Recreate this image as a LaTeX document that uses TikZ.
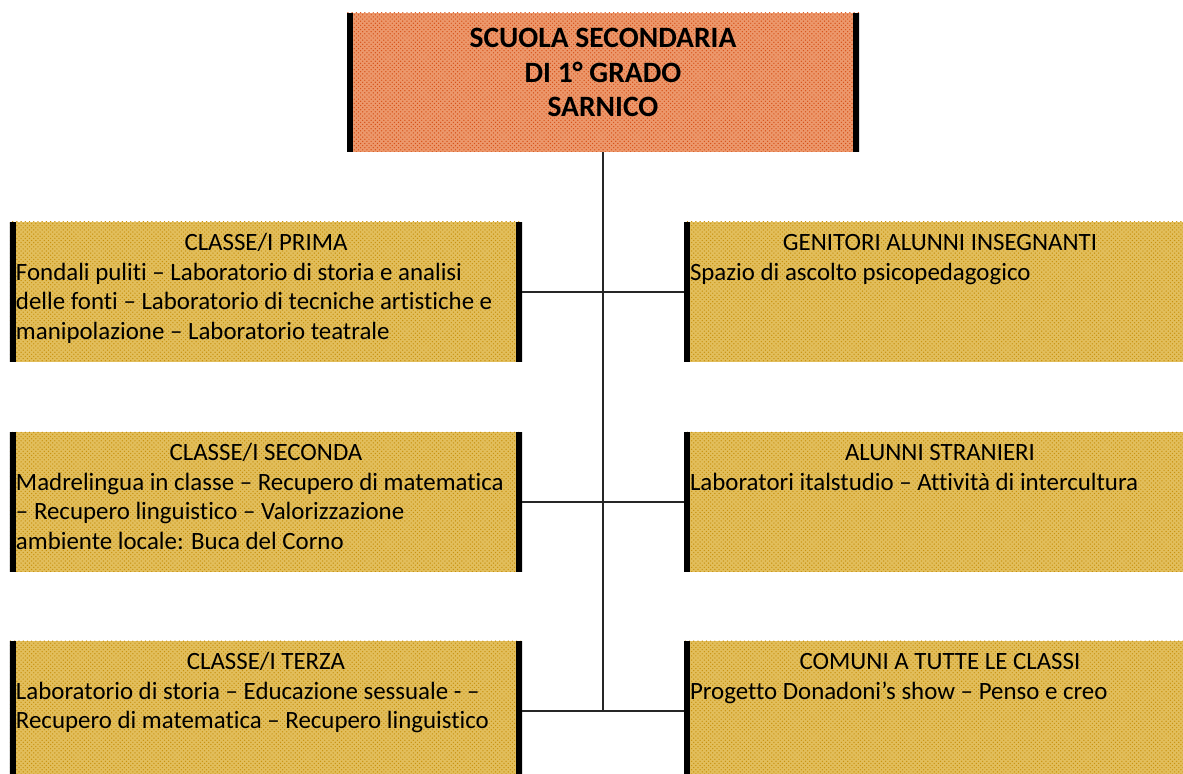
\documentclass[tikz,border=0pt]{standalone}
\usepackage{fontspec}
\setmainfont{Carlito}[Ligatures={NoCommon}]
\usepackage{xcolor}
\usetikzlibrary{patterns}

\definecolor{goldfill}{RGB}{226,190,92}
\definecolor{golddot}{RGB}{200,145,15}
\definecolor{orangefill}{RGB}{236,152,108}
\definecolor{orangedot}{RGB}{214,80,22}

\newcommand{\boxtext}[2]{\parbox[c][3.5cm][t]{12.5cm}{\fontsize{17.7}{20.9}\selectfont
\centering\rule{0pt}{0.725cm}#1\par\raggedright #2}}

\tikzset{
	panel/.style={inner xsep=0.15cm,inner ysep=0pt,preaction={fill=goldfill},
		pattern=crosshatch dots,pattern color=golddot,
		path picture={\draw[line width=0.3cm] (path picture bounding box.north west) -- (path picture bounding box.south west);
			\draw[line width=0.3cm] (path picture bounding box.north east) -- (path picture bounding box.south east);}},
	link/.style={line width=1.1pt,black!85}
}

\begin{document}
\begin{tikzpicture}
\useasboundingbox (0,0) rectangle (29.575,-19.35);
\clip (0,0) rectangle (29.575,-19.35);
\node[panel,preaction={fill=orangefill},pattern color=orangedot] (scuola) at (15.075,-2.0625)
	{\parbox[c][3.475cm][t]{12.5cm}{\fontsize{21}{24.5}\selectfont\bfseries\centering
	\rule{0pt}{0.87cm}SCUOLA SECONDARIA\\DI 1° GRADO\\SARNICO}};
\node[panel] (prima) at (6.65,-7.3) {\boxtext{CLASSE/I PRIMA}{Fondali puliti – Laboratorio di storia e analisi\\delle fonti – Laboratorio di tecniche artistiche e\\manipolazione – Laboratorio teatrale}};
\node[panel] (seconda) at (6.65,-12.55) {\boxtext{CLASSE/I SECONDA}{Madrelingua in classe – Recupero di matematica\\– Recupero linguistico – Valorizzazione\\ambiente locale: Buca del Corno}};
\node[panel] (terza) at (6.65,-17.775) {\boxtext{CLASSE/I TERZA}{Laboratorio di storia – Educazione sessuale - –\\Recupero di matematica – Recupero linguistico}};
\node[panel] (genitori) at (23.5,-7.3) {\boxtext{GENITORI ALUNNI INSEGNANTI}{Spazio di ascolto psicopedagogico}};
\node[panel] (stranieri) at (23.5,-12.55) {\boxtext{ALUNNI STRANIERI}{Laboratori italstudio – Attività di intercultura}};
\node[panel] (comuni) at (23.5,-17.775) {\boxtext{COMUNI A TUTTE LE CLASSI}{Progetto Donadoni’s show – Penso e creo}};
\draw[link] (scuola.south) -- (scuola.south |- terza.east);
\foreach \l/\r in {prima/genitori,seconda/stranieri,terza/comuni}
	\draw[link] (\l.east) -- (\r.west);
\end{tikzpicture}
\end{document}
